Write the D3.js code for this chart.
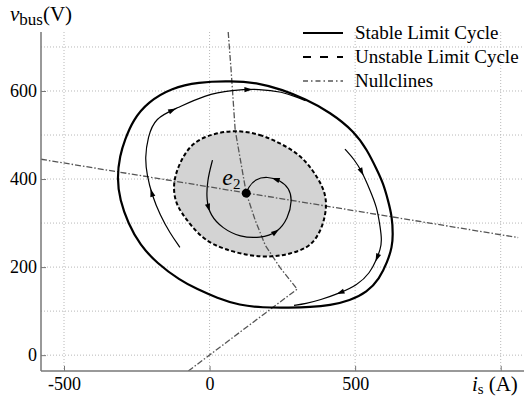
<!DOCTYPE html>
<html>
<head>
<meta charset="utf-8">
<script src="https://cdn.jsdelivr.net/npm/d3@7"></script>
<style>
  body { margin: 0; background: #fff; }
  svg { display: block; font-family: "Liberation Serif", serif; }
</style>
</head>
<body>
<div id="chart"></div>
<script>
// phase plane data, [i_s (A), v_bus (V)]
const stableCycle = [[70,623],[173,618],[249,603],[328,582],[414,552],[499,507],[541,466],[575,421],[596,391],[613,352],[627,314],[630,273],[627,246],[611,212],[583,173],[541,143],[482,124],[414,113],[345,109],[276,108],[180,108],[104,113],[25,130],[-43,150],[-102,170],[-181,209],[-239,250],[-280,300],[-308,352],[-318,402],[-308,454],[-291,489],[-263,534],[-212,575],[-129,607],[-40,620]];
const unstableCycle = [[94,511],[173,502],[242,482],[311,455],[355,420],[390,382],[404,346],[393,302],[369,266],[335,243],[276,230],[218,223],[139,225],[46,241],[-16,261],[-57,289],[-91,318],[-119,348],[-126,393],[-102,439],[-60,484],[19,505]];
const nullcline1 = [[-579,445],[1060,267]];
const nullcline2 = [[64,734],[74,647],[88,511],[126,368],[157,306],[191,250],[243,198],[301,150],[-73,-36]];
const traj1 = [[-102,245],[-136,277],[-170,318],[-198,364],[-215,409],[-222,448],[-212,495],[-188,539],[-112,561],[-16,591],[77,602],[173,605],[250,598],[300,586],[330,578]];
const traj2 = [[465,468],[499,443],[524,416],[551,375],[575,336],[586,291],[592,261],[586,239],[575,220],[551,186],[507,159],[448,141],[379,125],[330,117],[290,113]];
const spiral = [[10,443],[-8,397],[-11,352],[2,318],[44,288],[105,268],[174,266],[232,277],[270,311],[284,352],[274,379],[243,397],[198,406],[157,400],[133,381],[126,368]];
const equilibrium = [126, 368];

const xTicks = [-500, 0, 500, 1000];
const yTicks = [0, 200, 400, 600];
const yGrid = [0, 100, 200, 300, 400, 500, 600, 700];
const legendItems = ["Stable Limit Cycle", "Unstable Limit Cycle", "Nullclines"];

const width = 524, height = 396;
const margin = {top: 32, right: 0, bottom: 25, left: 41};

const svg = d3.select("#chart").append("svg")
    .attr("width", width)
    .attr("height", height);

const x = d3.scaleLinear().domain([-579, 1080]).range([margin.left, width - margin.right]);
const y = d3.scaleLinear().domain([-36, 734]).range([height - margin.bottom, margin.top]);

svg.append("clipPath").attr("id", "plot-clip")
  .append("rect")
    .attr("x", margin.left).attr("y", margin.top)
    .attr("width", width - margin.left - margin.right)
    .attr("height", height - margin.top - margin.bottom);

// grid
const grid = svg.append("g").attr("stroke", "#b8b8b8").attr("stroke-width", 1).attr("stroke-dasharray", "1,2");
grid.selectAll(".hg").data(yGrid).join("line")
    .attr("x1", margin.left).attr("x2", width)
    .attr("y1", d => y(d)).attr("y2", d => y(d));
grid.selectAll(".vg").data(xTicks).join("line")
    .attr("x1", d => x(d)).attr("x2", d => x(d))
    .attr("y1", margin.top).attr("y2", height - margin.bottom);

const plot = svg.append("g").attr("clip-path", "url(#plot-clip)");

const closedLine = d3.line().x(d => x(d[0])).y(d => y(d[1])).curve(d3.curveBasisClosed);
const openLine = d3.line().x(d => x(d[0])).y(d => y(d[1])).curve(d3.curveBasis);
const straight = d3.line().x(d => x(d[0])).y(d => y(d[1]));

// unstable cycle fill
plot.append("path")
    .attr("d", closedLine(unstableCycle))
    .attr("fill", "#d3d3d3")
    .attr("stroke", "none");

// nullclines
[nullcline1, nullcline2].forEach(nc => {
  plot.append("path")
      .attr("d", straight(nc))
      .attr("fill", "none")
      .attr("stroke", "#555")
      .attr("stroke-width", 1.3)
      .attr("stroke-dasharray", "6,2,1.5,2");
});

plot.append("path")
    .attr("d", closedLine(unstableCycle))
    .attr("fill", "none")
    .attr("stroke", "#000")
    .attr("stroke-width", 2)
    .attr("stroke-dasharray", "4,2.4");

// trajectories with arrow heads
function drawTraj(data, arrowsAt) {
  const p = plot.append("path")
      .attr("d", openLine(data))
      .attr("fill", "none")
      .attr("stroke", "#000")
      .attr("stroke-width", 1.2);
  const node = p.node();
  const len = node.getTotalLength();
  arrowsAt.forEach(f => {
    const a = node.getPointAtLength(len * f);
    const b = node.getPointAtLength(len * f + 1);
    const ang = Math.atan2(b.y - a.y, b.x - a.x) * 180 / Math.PI;
    plot.append("path")
        .attr("d", "M4,0L-4,-2.6L-4,2.6Z")
        .attr("fill", "#000")
        .attr("transform", `translate(${a.x},${a.y}) rotate(${ang})`);
  });
}
drawTraj(traj1, [0.21, 0.53, 0.8]);
drawTraj(traj2, [0.13, 0.54, 0.78]);
drawTraj(spiral, [0.21, 0.56, 0.84]);

// stable cycle on top so trajectories merge into it
plot.append("path")
    .attr("d", closedLine(stableCycle))
    .attr("fill", "none")
    .attr("stroke", "#000")
    .attr("stroke-width", 2.2);

plot.append("circle")
    .attr("cx", x(equilibrium[0])).attr("cy", y(equilibrium[1]))
    .attr("r", 4.5).attr("fill", "#000");

const eLabel = svg.append("text")
    .attr("x", x(equilibrium[0]) - 24).attr("y", y(equilibrium[1]) - 8)
    .attr("font-size", 24);
eLabel.append("tspan").attr("font-style", "italic").text("e");
eLabel.append("tspan").attr("font-size", 15).attr("dy", 4).text("2");

// axes
const xAxis = svg.append("g")
    .attr("transform", `translate(0,${height - margin.bottom})`)
    .call(d3.axisBottom(x).tickValues(xTicks).tickSize(-5).tickSizeOuter(0).tickPadding(6)
      .tickFormat(d => d === 1000 ? "" : String(d)));
const yAxis = svg.append("g")
    .attr("transform", `translate(${margin.left},0)`)
    .call(d3.axisLeft(y).tickValues(yTicks).tickSize(-5).tickSizeOuter(0).tickPadding(4)
      .tickFormat(d => String(d)));
[xAxis, yAxis].forEach(g => {
  g.select(".domain").attr("stroke", "#777").attr("stroke-width", 1.5);
  g.selectAll(".tick line").attr("stroke", "#777").attr("stroke-width", 1);
  g.selectAll(".tick text").attr("font-family", "Liberation Serif, serif").attr("font-size", 18).attr("fill", "#000");
});
yAxis.select(".domain").attr("d", `M0,${margin.top}V${height - margin.bottom}`);
xAxis.select(".domain").attr("d", `M${margin.left},0H${width}`);

// axis labels
const yl = svg.append("text").attr("x", 10).attr("y", 21).attr("font-size", 21);
yl.append("tspan").attr("font-style", "italic").text("v");
yl.append("tspan").attr("font-size", 17).attr("dy", 4).text("bus");
yl.append("tspan").attr("dy", -4).text("(V)");

const xl = svg.append("text").attr("x", 472).attr("y", 391).attr("font-size", 21);
xl.append("tspan").attr("font-style", "italic").text("i");
xl.append("tspan").attr("font-size", 15).attr("dy", 3).text("s");
xl.append("tspan").attr("dy", -3).attr("dx", 5).text("(A)");

// legend
const legend = svg.append("g");
const dashes = [null, "8,9", "5,3,1.5,3"];
const widths = [2.2, 2.2, 1.3];
legendItems.forEach((t, i) => {
  const ly = 33 + i * 24;
  legend.append("line")
      .attr("x1", 303).attr("x2", 343)
      .attr("y1", ly).attr("y2", ly)
      .attr("stroke", i === 2 ? "#555" : "#000")
      .attr("stroke-width", widths[i])
      .attr("stroke-dasharray", dashes[i]);
  legend.append("text")
      .attr("x", 355).attr("y", ly + 5.5)
      .attr("font-size", 19)
      .text(t);
});
</script>
</body>
</html>
